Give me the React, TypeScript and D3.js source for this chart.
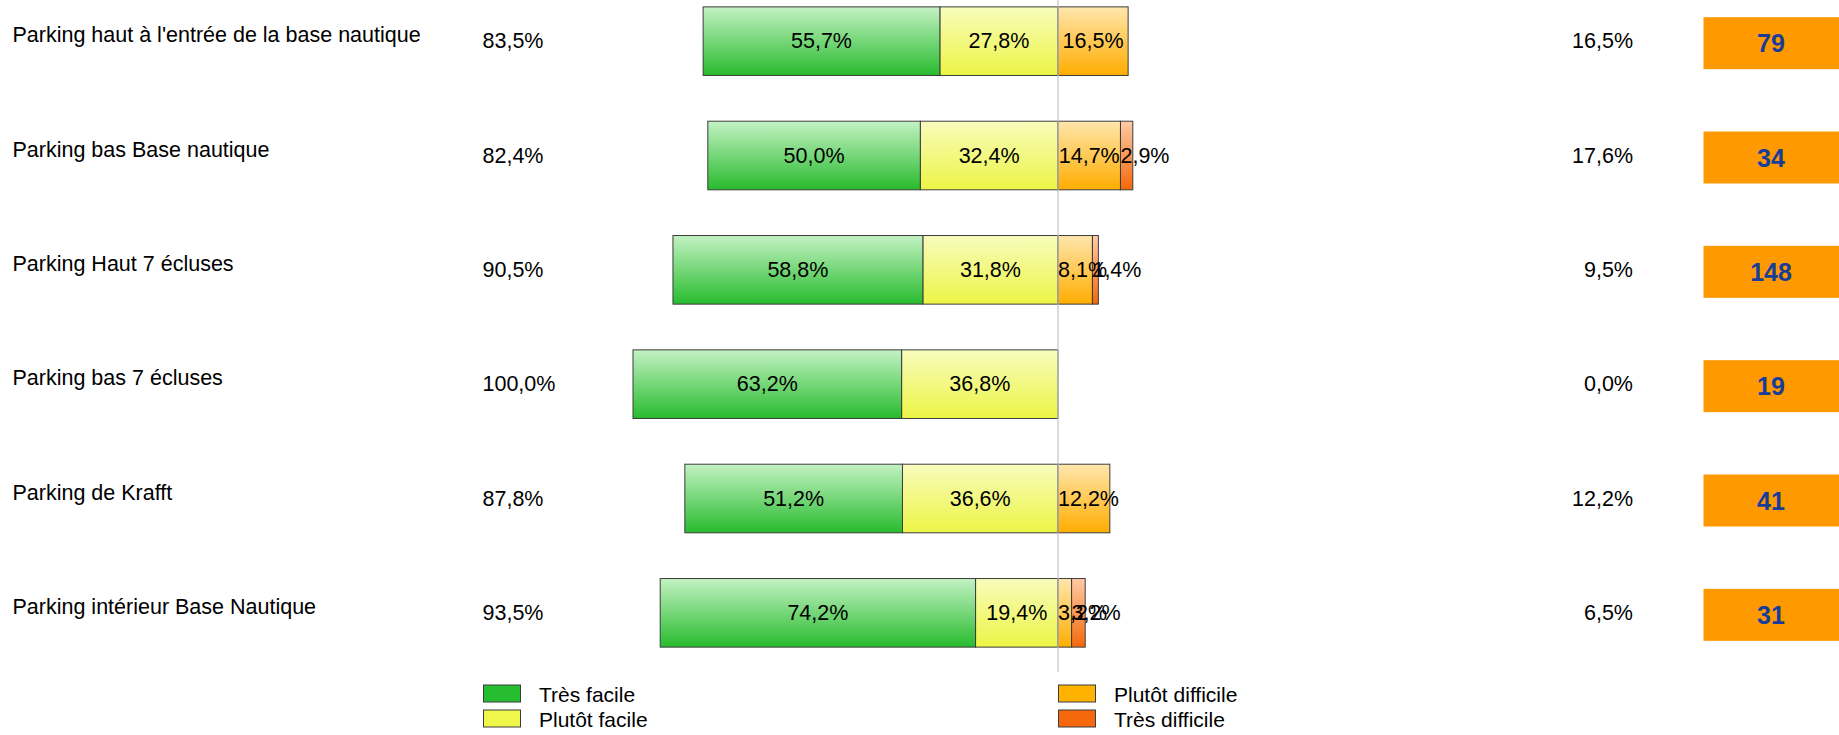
import { useMemo } from "react";
import * as d3 from "d3";

const sites = [
  "Parking haut à l'entrée de la base nautique",
  "Parking bas Base nautique",
  "Parking Haut 7 écluses",
  "Parking bas 7 écluses",
  "Parking de Krafft",
  "Parking intérieur Base Nautique",
];
const tresFacile = [55.7, 50.0, 58.8, 63.2, 51.2, 74.2];
const plutotFacile = [27.8, 32.4, 31.8, 36.8, 36.6, 19.4];
const plutotDifficile = [16.5, 14.7, 8.1, 0, 12.2, 3.2];
const tresDifficile = [0, 2.9, 1.4, 0, 0, 3.2];
const totalFacile = [83.5, 82.4, 90.5, 100.0, 87.8, 93.5];
const totalDifficile = [16.5, 17.6, 9.5, 0.0, 12.2, 6.5];
const effectifs = [79, 34, 148, 19, 41, 31];
const legendLabels = ["Très facile", "Plutôt facile", "Plutôt difficile", "Très difficile"];

const W = 1839;
const H = 735;
const FONT = "'Liberation Sans', Arial, sans-serif";
const FS = 21.5;
const INK = "#000";

// gradient stops (top, bottom) and legend fill per series
const series = {
  pf: { top: "#f8fcbc", bottom: "#ecf545", solid: "#eef74a", label: legendLabels[1] },
  tf: { top: "#c3f2c3", bottom: "#28bb2e", solid: "#26bd30", label: legendLabels[0] },
  pd: { top: "#ffe6ad", bottom: "#ffad00", solid: "#ffb300", label: legendLabels[2] },
  td: { top: "#ffcaa6", bottom: "#f5680a", solid: "#f5690c", label: legendLabels[3] },
};
type Key = keyof typeof series;
const keys: Key[] = ["pf", "tf", "pd", "td"];

const fmt = (v: number) => d3.format(".1f")(v).replace(".", ",") + "%";

// rough Arial widths, enough to know if a label fits its segment
const textWidth = (s: string, size: number) =>
  d3.sum(s.split(""), (c) => (c === "," ? 0.278 : c === "%" ? 0.889 : 0.556)) * size;

export default function App() {
  const rows = useMemo(
    () =>
      sites.map((site, i) => ({
        site,
        tf: -tresFacile[i],
        pf: -plutotFacile[i],
        pd: plutotDifficile[i],
        td: tresDifficile[i],
      })),
    []
  );

  const stacked = useMemo(
    () =>
      d3
        .stack<(typeof rows)[number], Key>()
        .keys(keys)
        .offset(d3.stackOffsetDiverging)(rows),
    [rows]
  );

  const x = d3.scaleLinear().domain([-100, 100]).range([633, 1483]);
  const y = d3
    .scaleBand<string>()
    .domain(sites)
    .range([-16, 670])
    .paddingInner(0.4)
    .paddingOuter(0.2);
  const bw = y.bandwidth();

  return (
    <div style={{ position: "absolute", left: 0, top: 0 }}>
      <svg width={W} height={H} style={{ display: "block", background: "#fff" }} fontFamily={FONT}>
        <defs>
          {keys.map((k) => (
            <linearGradient key={k} id={`g-${k}`} x1="0" y1="0" x2="0" y2="1">
              <stop offset="0%" stopColor={series[k].top} />
              <stop offset="100%" stopColor={series[k].bottom} />
            </linearGradient>
          ))}
        </defs>

        {stacked.map((layer) => (
          <g key={layer.key}>
            {layer.map((d, i) => {
              const x0 = x(Math.min(d[0], d[1]));
              const x1 = x(Math.max(d[0], d[1]));
              if (x1 - x0 <= 0) return null;
              return (
                <rect
                  key={i}
                  x={x0}
                  y={y(sites[i])!}
                  width={x1 - x0}
                  height={bw}
                  fill={`url(#g-${layer.key})`}
                  stroke="#3c3c3c"
                  strokeWidth={1}
                />
              );
            })}
          </g>
        ))}

        <line x1={x(0)} x2={x(0)} y1={0} y2={672} stroke="#c4c4c4" strokeWidth={1.2} />

        {stacked.map((layer) => (
          <g key={`lbl-${layer.key}`}>
            {layer.map((d, i) => {
              const v = Math.abs(d[1] - d[0]);
              if (v <= 0) return null;
              const x0 = x(Math.min(d[0], d[1]));
              const x1 = x(Math.max(d[0], d[1]));
              const s = fmt(v);
              const fits = textWidth(s, FS) <= x1 - x0;
              return (
                <text
                  key={i}
                  x={fits ? (x0 + x1) / 2 : x0}
                  y={y(sites[i])! + bw / 2 + 7.3}
                  textAnchor={fits ? "middle" : "start"}
                  fontSize={FS}
                  fill={INK}
                >
                  {s}
                </text>
              );
            })}
          </g>
        ))}

        {sites.map((site, i) => {
          const cy = y(site)! + bw / 2;
          return (
            <g key={site}>
              <text x={12.5} y={cy + 1.3} fontSize={FS} fill={INK}>
                {site}
              </text>
              <text x={482.5} y={cy + 7.3} fontSize={FS} fill={INK}>
                {fmt(totalFacile[i])}
              </text>
              <text x={1633} y={cy + 7.3} fontSize={FS} fill={INK} textAnchor="end">
                {fmt(totalDifficile[i])}
              </text>
              <rect x={1703.5} y={cy + 2 - 26} width={136} height={52} fill="#ff9900" />
              <text
                x={1771}
                y={cy + 2 + 9}
                fontSize={25}
                fontWeight="bold"
                fill="#173d99"
                textAnchor="middle"
              >
                {effectifs[i]}
              </text>
            </g>
          );
        })}

        {(["tf", "pf", "pd", "td"] as Key[]).map((k, i) => {
          const lx = i < 2 ? 483.5 : 1058.5;
          const ly = i % 2 === 0 ? 685 : 710;
          return (
            <g key={`leg-${k}`}>
              <rect x={lx} y={ly} width={37} height={17} fill={series[k].solid} stroke="#3c3c3c" strokeWidth={1} />
              <text x={lx + 55.5} y={ly + 16.5} fontSize={21} fill={INK}>
                {series[k].label}
              </text>
            </g>
          );
        })}
      </svg>
    </div>
  );
}
